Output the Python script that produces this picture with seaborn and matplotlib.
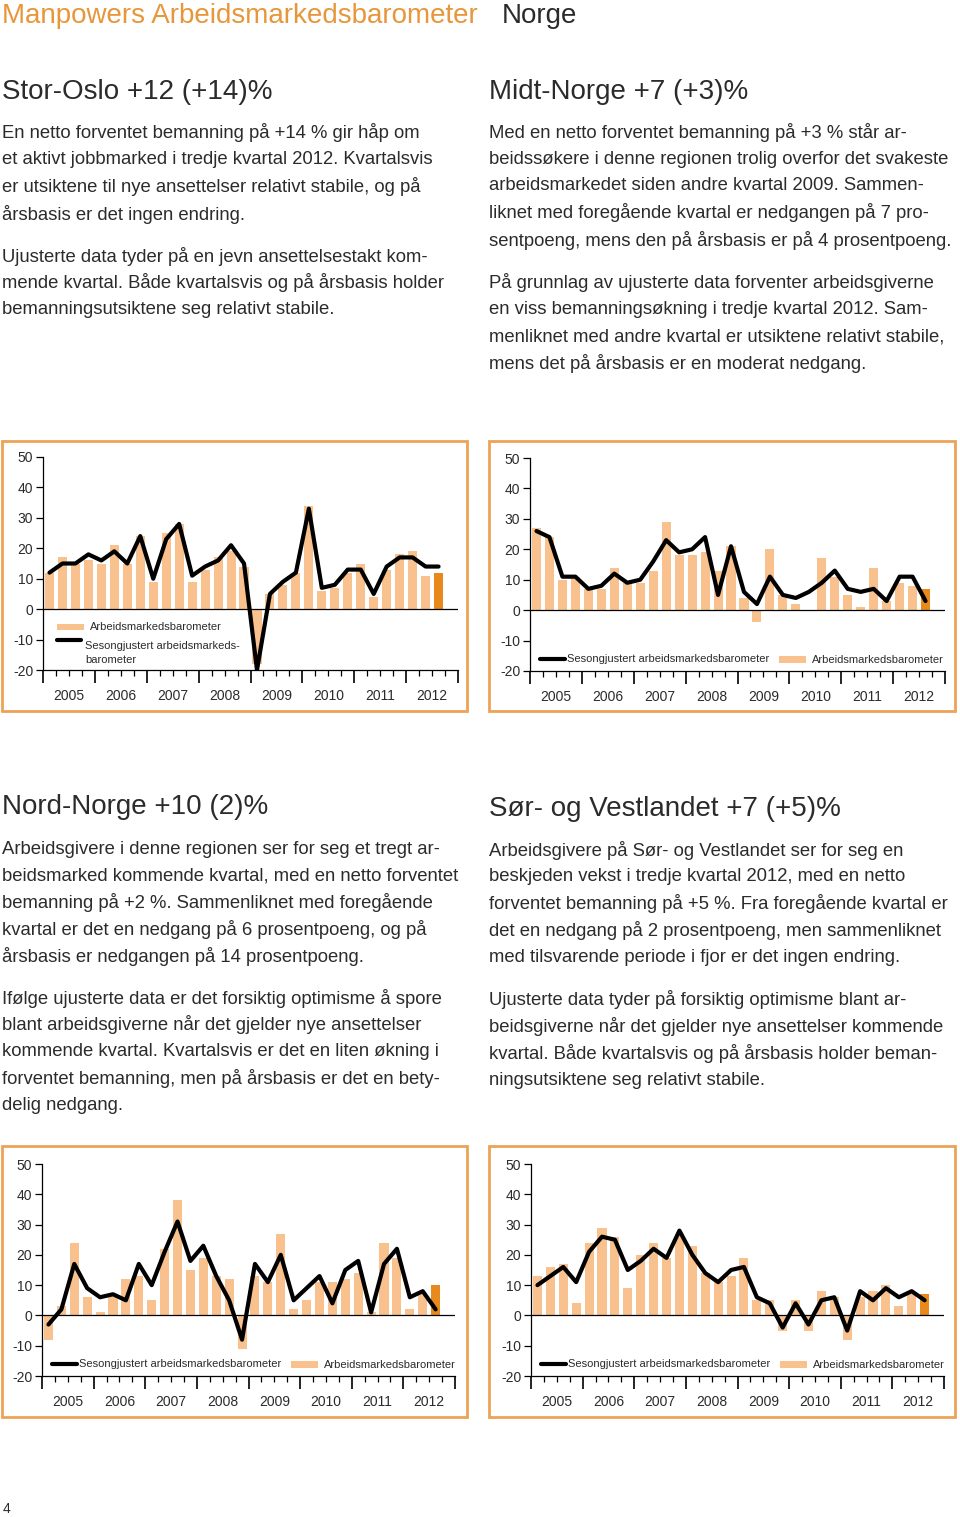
import matplotlib
matplotlib.use('Agg')
import matplotlib.pyplot as plt
from matplotlib.patches import Rectangle
from matplotlib.lines import Line2D
from matplotlib.ticker import FixedLocator, FuncFormatter
import seaborn as sns
import pandas as pd

# kvartaler 2005 K1 - 2012 K3
years = ['2005', '2006', '2007', '2008', '2009', '2010', '2011', '2012']
quarters = list(range(31))

oslo_bar = [12, 17, 15, 16, 15, 21, 15, 24, 9, 25, 28, 9, 13, 17, 19, 14, -18, 5, 8, 12, 34, 6, 7, 12, 15, 4, 13, 18, 19, 11, 12]
oslo_line = [12, 15, 15, 18, 16, 19, 15, 24, 10, 23, 28, 11, 14, 16, 21, 15, -20, 5, 9, 12, 33, 7, 8, 13, 13, 5, 14, 17, 17, 14, 14]

midt_bar = [27, 24, 10, 11, 7, 7, 14, 9, 9, 13, 29, 18, 18, 19, 13, 21, 4, -4, 20, 5, 2, 0, 17, 11, 5, 1, 14, 3, 9, 8, 7]
midt_line = [26, 24, 11, 11, 7, 8, 12, 9, 10, 16, 23, 19, 20, 24, 5, 21, 6, 2, 11, 5, 4, 6, 9, 13, 7, 6, 7, 3, 11, 11, 3]

nord_bar = [-8, 3, 24, 6, 1, 7, 12, 13, 5, 22, 38, 15, 19, 13, 12, -11, 13, 11, 27, 2, 5, 11, 11, 12, 14, 1, 24, 19, 2, 7, 10]
nord_line = [-3, 2, 17, 9, 6, 7, 5, 17, 10, 21, 31, 18, 23, 13, 5, -8, 17, 11, 20, 5, 9, 13, 4, 15, 18, 1, 17, 22, 6, 8, 2]

sor_bar = [13, 16, 17, 4, 24, 29, 26, 9, 20, 24, 19, 27, 23, 14, 11, 13, 19, 5, 5, -5, 5, -5, 8, 6, -8, 6, 8, 10, 3, 7, 7]
sor_line = [10, 13, 16, 11, 21, 26, 25, 15, 18, 22, 19, 28, 20, 14, 11, 15, 16, 6, 4, -4, 4, -3, 5, 6, -5, 8, 5, 9, 6, 8, 5]

LIGHT = '#F8C18E'
ORANGE = '#E8891E'
FRAME = '#EBA456'
TXT = '#2b2b2b'
BODY = 13.3
HEAD = 20.0

sns.set_theme(style='white')
plt.rcParams['font.family'] = ['Liberation Sans', 'DejaVu Sans']
plt.rcParams['axes.unicode_minus'] = False

W, H = 960, 1517
fig = plt.figure(figsize=(W / 100, H / 100), dpi=100)


def fx(px):
    return px / W


def fy(py):
    return 1 - py / H


def lines_at(x, y0, step, lines, size=BODY):
    for i, s in enumerate(lines):
        fig.text(fx(x), fy(y0 + i * step), s, fontsize=size, color=TXT, va='center', ha='left')


# tittel
fig.text(fx(2), fy(16), 'Manpowers Arbeidsmarkedsbarometer', fontsize=HEAD, color='#E8963A', va='center')
fig.text(fx(502), fy(16), 'Norge', fontsize=HEAD, color=TXT, va='center')

# Stor-Oslo
fig.text(fx(2), fy(92), 'Stor-Oslo +12 (+14)%', fontsize=HEAD, color=TXT, va='center')
lines_at(2, 133, 27, ['En netto forventet bemanning på +14 % gir håp om',
                      'et aktivt jobbmarked i tredje kvartal 2012. Kvartalsvis',
                      'er utsiktene til nye ansettelser relativt stabile, og på',
                      'årsbasis er det ingen endring.'])
lines_at(2, 256, 27, ['Ujusterte data tyder på en jevn ansettelsestakt kom-',
                      'mende kvartal. Både kvartalsvis og på årsbasis holder',
                      'bemanningsutsiktene seg relativt stabile.'])

# Midt-Norge
fig.text(fx(489), fy(92), 'Midt-Norge +7 (+3)%', fontsize=HEAD, color=TXT, va='center')
lines_at(489, 132, 27, ['Med en netto forventet bemanning på +3 % står ar-',
                        'beidssøkere i denne regionen trolig overfor det svakeste',
                        'arbeidsmarkedet siden andre kvartal 2009. Sammen-',
                        'liknet med foregående kvartal er nedgangen på 7 pro-',
                        'sentpoeng, mens den på årsbasis er på 4 prosentpoeng.'])
lines_at(489, 283, 26.8, ['På grunnlag av ujusterte data forventer arbeidsgiverne',
                          'en viss bemanningsøkning i tredje kvartal 2012. Sam-',
                          'menliknet med andre kvartal er utsiktene relativt stabile,',
                          'mens det på årsbasis er en moderat nedgang.'])

# Nord-Norge
fig.text(fx(2), fy(807), 'Nord-Norge +10 (2)%', fontsize=HEAD, color=TXT, va='center')
lines_at(2, 849, 26.8, ['Arbeidsgivere i denne regionen ser for seg et tregt ar-',
                        'beidsmarked kommende kvartal, med en netto forventet',
                        'bemanning på +2 %. Sammenliknet med foregående',
                        'kvartal er det en nedgang på 6 prosentpoeng, og på',
                        'årsbasis er nedgangen på 14 prosentpoeng.'])
lines_at(2, 998, 27, ['Ifølge ujusterte data er det forsiktig optimisme å spore',
                      'blant arbeidsgiverne når det gjelder nye ansettelser',
                      'kommende kvartal. Kvartalsvis er det en liten økning i',
                      'forventet bemanning, men på årsbasis er det en bety-',
                      'delig nedgang.'])

# Sør- og Vestlandet
fig.text(fx(489), fy(809), 'Sør- og Vestlandet +7 (+5)%', fontsize=HEAD, color=TXT, va='center')
lines_at(489, 850, 26.8, ['Arbeidsgivere på Sør- og Vestlandet ser for seg en',
                          'beskjeden vekst i tredje kvartal 2012, med en netto',
                          'forventet bemanning på +5 %. Fra foregående kvartal er',
                          'det en nedgang på 2 prosentpoeng, men sammenliknet',
                          'med tilsvarende periode i fjor er det ingen endring.'])
lines_at(489, 1000, 26.7, ['Ujusterte data tyder på forsiktig optimisme blant ar-',
                           'beidsgiverne når det gjelder nye ansettelser kommende',
                           'kvartal. Både kvartalsvis og på årsbasis holder beman-',
                           'ningsutsiktene seg relativt stabile.'])

fig.text(fx(3), fy(1509), '4', fontsize=10, color=TXT, va='center')


def chart(frame, axbox, bars, line, legend_style):
    # orange ramme
    x0, y0, x1, y1 = frame
    fig.add_artist(Rectangle((fx(x0), fy(y1)), fx(x1 - x0), (y1 - y0) / H,
                             transform=fig.transFigure, fill=False,
                             edgecolor=FRAME, linewidth=2.0))
    l, t, r, b = axbox
    ax = fig.add_axes([fx(l), fy(b), fx(r - l), (b - t) / H])
    df = pd.DataFrame({'pos': [q + 0.5 for q in quarters], 'bar': bars, 'line': line,
                       'type': ['old'] * (len(quarters) - 1) + ['new']})
    sns.barplot(data=df, x='pos', y='bar', hue='type', palette={'old': LIGHT, 'new': ORANGE},
                native_scale=True, width=0.7, dodge=False, errorbar=None, legend=False,
                saturation=1, linewidth=0, ax=ax)
    sns.lineplot(data=df, x='pos', y='line', color='black', linewidth=3.0, ax=ax)
    ax.axhline(0, color='black', linewidth=0.9)
    ax.set_xlim(0, 32)
    ax.set_ylim(-20, 50)
    ax.set_facecolor('none')
    for s in ['top', 'right']:
        ax.spines[s].set_visible(False)
    for s in ['left', 'bottom']:
        ax.spines[s].set_color('black')
        ax.spines[s].set_linewidth(0.9)
    ax.set_xlabel('')
    ax.set_ylabel('')
    ax.set_yticks(range(-20, 51, 10))
    ax.tick_params(axis='y', direction='out', length=5, width=0.9, color='black',
                   labelsize=10, labelcolor=TXT, pad=2, left=True)
    ax.xaxis.set_major_locator(FixedLocator(list(range(0, 33, 4))))
    ax.xaxis.set_major_formatter(FuncFormatter(lambda v, p: ''))
    ax.xaxis.set_minor_locator(FixedLocator(list(range(0, 33))))
    ax.xaxis.set_minor_formatter(FuncFormatter(
        lambda v, p: years[int(round(v)) // 4] if int(round(v)) % 4 == 2 else ''))
    ax.tick_params(axis='x', which='major', direction='out', length=9, width=1.2,
                   color='black', bottom=True)
    ax.tick_params(axis='x', which='minor', direction='out', length=4, width=0.9,
                   color='black', labelsize=10, labelcolor=TXT, pad=10, bottom=True)

    # forklaring
    if legend_style == 'stacked':
        fig.add_artist(Rectangle((fx(l + 14), fy(630)), fx(27), 6 / H,
                                 transform=fig.transFigure, color=LIGHT, linewidth=0))
        fig.text(fx(l + 47), fy(627), 'Arbeidsmarkedsbarometer', fontsize=8, color=TXT, va='center')
        fig.add_artist(Line2D([fx(l + 14), fx(l + 38)], [fy(640), fy(640)],
                              transform=fig.transFigure, color='black', linewidth=3.0))
        fig.text(fx(l + 42), fy(646), 'Sesongjustert arbeidsmarkeds-', fontsize=8, color=TXT, va='center')
        fig.text(fx(l + 42), fy(660), 'barometer', fontsize=8, color=TXT, va='center')
    else:
        ly = b - 12
        fig.add_artist(Line2D([fx(l + 10), fx(l + 35)], [fy(ly), fy(ly)],
                              transform=fig.transFigure, color='black', linewidth=3.0))
        fig.text(fx(l + 37), fy(ly), 'Sesongjustert arbeidsmarkedsbarometer', fontsize=8,
                 color=TXT, va='center')
        fig.add_artist(Rectangle((fx(l + 249), fy(ly + 4)), fx(27), 7 / H,
                                 transform=fig.transFigure, color=LIGHT, linewidth=0))
        fig.text(fx(l + 282), fy(ly + 1), 'Arbeidsmarkedsbarometer', fontsize=8,
                 color=TXT, va='center')
    return ax


chart((2, 441, 467, 711), (43, 457, 458, 670), oslo_bar, oslo_line, 'stacked')
chart((489, 441, 955, 711), (530, 458, 945, 671), midt_bar, midt_line, 'row')
chart((2, 1146, 467, 1417), (42, 1164, 455, 1376), nord_bar, nord_line, 'row')
chart((489, 1146, 955, 1417), (531, 1164, 944, 1376), sor_bar, sor_line, 'row')

fig.savefig('out.png', dpi=100, facecolor='white')
